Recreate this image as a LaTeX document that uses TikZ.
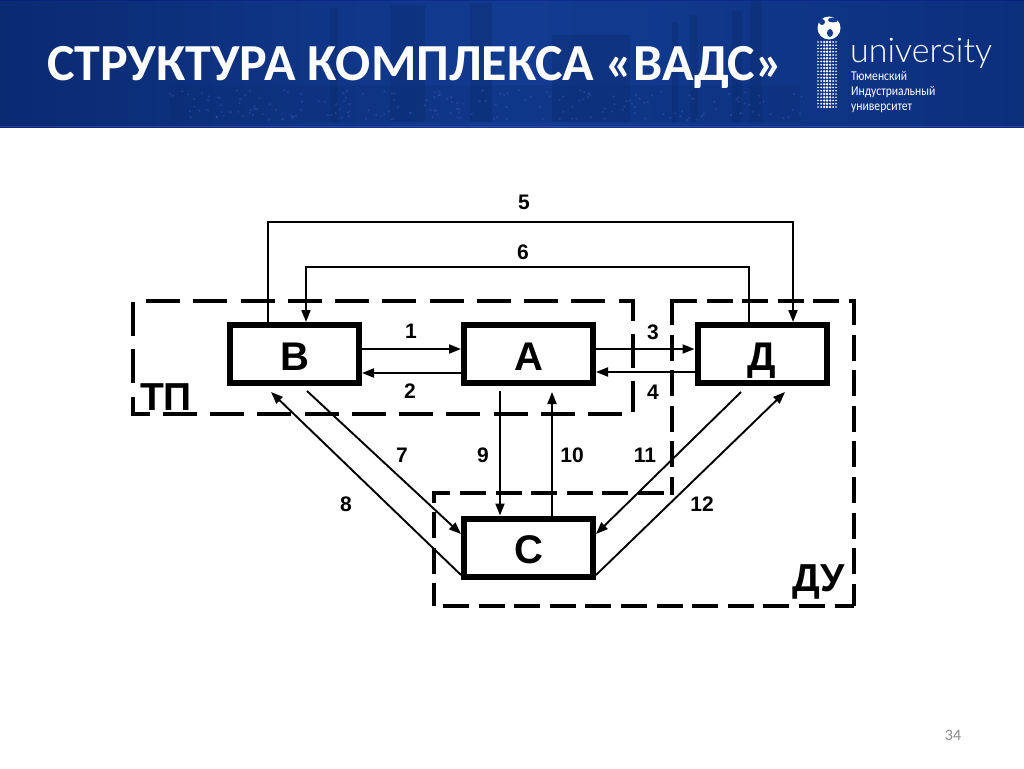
\documentclass[tikz,border=0pt]{standalone}
\usepackage{fontspec}
\setmainfont{Liberation Sans}
\newfontfamily\titlefont{Carlito}
\newfontfamily\logofont{Lato Light}
\usetikzlibrary{arrows.meta,shapes.geometric}
\definecolor{navy}{HTML}{0A2A72}
\definecolor{bluemid}{HTML}{123C92}
\definecolor{bluedark}{HTML}{0C2F7C}
\definecolor{towerblue}{HTML}{0A2A6C}
\definecolor{pagegray}{HTML}{8C8C8C}
\tikzset{
  blockbox/.style={draw=black,line width=6pt,fill=white,minimum width=129pt,minimum height=58pt,inner sep=0pt,text height=28pt,text depth=0pt,font=\bfseries\fontsize{40}{40}\selectfont},
  conn/.style={draw=black,line width=1.9pt,-{Triangle[length=12pt,width=9pt]}},
  numlabel/.style={inner sep=0pt,font=\bfseries\fontsize{21}{21}\selectfont},
  zonelabel/.style={inner sep=0pt,font=\bfseries\fontsize{39}{39}\selectfont},
  zoneA/.style={draw=black,line width=4.5pt,dash pattern=on 34pt off 13.25pt},
  zoneB/.style={draw=black,line width=3.4pt,dash pattern=on 26pt off 9.6pt},
  skyline/.style={fill=towerblue,fill opacity=.38,draw=none},
  logoline/.style={anchor=base west,inner sep=0pt,text=white,xscale=.86,transform shape,font=\titlefont\fontsize{13.5}{13.5}\selectfont},
}
\begin{document}
\begin{tikzpicture}[x=1pt,y=-1pt]
\useasboundingbox (0,0) rectangle (1024,768);
\fill[white] (0,0) rectangle (1024,768);
% header band
\shade[left color=navy,right color=bluedark,middle color=bluemid] (0,0) rectangle (1024,127);
\fill[black!40!blue,opacity=.25] (0,0) rectangle (1024,1.5);
\fill[black!30!blue!70!white,opacity=.5] (0,125.5) rectangle (1024,127);
% faint skyline
\foreach \xa/\ya/\xb in {330/8/338,390/5/425,470/3/492,552/35/630,672/22/678,690/15/698,732/11/742,750/0/762}
  \fill[skyline] (\xa,\ya) rectangle (\xb,122);
\fill[skyline,fill opacity=.2] (170,85) rectangle (800,122);
\pgfmathsetseed{7}
\foreach \i in {1,...,200}{
  \pgfmathsetmacro{\dx}{170+rnd*640}
  \pgfmathsetmacro{\dy}{90+rnd*30}
  \fill[blue!45!white,opacity=.16] (\dx,\dy) circle (1.3pt);
}
% title
\node[anchor=base west,inner sep=0pt,text=white,font=\titlefont\bfseries\fontsize{52}{52}\selectfont] (title) at (47,81) {СТРУКТУРА КОМПЛЕКСА «ВАДС»};
% logo
\fill[white] (829,28) circle (11.5pt);
\fill[bluemid] (822,22) circle (3pt) (833,20) ellipse (5pt and 2.5pt) (830,33) ellipse (3pt and 4pt);
\foreach \c/\r in {0/.8,1/1,2/1.25,3/1.4,4/1.25,5/1,6/.8}
  \foreach \k in {0,...,20}
    \fill[white] (818+\c*3,42+\k*3.25) circle (\r pt);
\node[anchor=base west,inner sep=0pt,text=white,font=\logofont\fontsize{34}{34}\selectfont] (logoname) at (850,63) {university};
\node[logoline] (logo1) at (851,80) {Тюменский};
\node[logoline] (logo2) at (851,95.5) {Индустриальный};
\node[logoline] (logo3) at (851,110) {университет};
% dashed zones
\draw[zoneA] (133,302) -- (133,414) -- (635,414);
\draw[zoneA] (146,301) -- (633,301) -- (633,412);
\draw[zoneB] (671,301) -- (856,301);
\draw[zoneB] (854,299) -- (854,606);
\draw[zoneB] (672,299) -- (672,495);
\draw[zoneB] (664,493) -- (434,493) -- (434,606);
\draw[zoneB] (443,606) -- (854,606);
% blocks
\node[blockbox] (V) at (294.5,354) {\raisebox{-2pt}{В}};
\node[blockbox] (A) at (528.5,354) {\raisebox{-2pt}{А}};
\node[blockbox] (D) at (762,354) {\raisebox{-2pt}{Д}};
\node[blockbox] (S) at (528.5,547.5) {\raisebox{-2pt}{С}};
% connectors
\draw[conn] ([xshift=-26.5pt]V.north) -- ++(0,-100) -| ([xshift=31pt]D.north);
\draw[conn] ([xshift=-13pt]D.north) -- ++(0,-55) -| ([xshift=11.5pt]V.north);
\draw[conn] ([yshift=5pt]V.east) -- ([yshift=5pt]A.west);
\draw[conn] ([yshift=-19pt]A.west) -- ([yshift=-19pt]V.east);
\draw[conn] ([yshift=5pt]A.east) -- ([yshift=5pt]D.west);
\draw[conn] ([yshift=-18pt]D.west) -- ([yshift=-18pt]A.east);
\draw[conn] ([xshift=12.5pt,yshift=-5pt]V.south) -- ([yshift=13.5pt]S.west);
\draw[conn] ([yshift=-27.5pt]S.west) -- ([xshift=-23.5pt,yshift=-6pt]V.south);
\draw[conn] ([xshift=-28.5pt,yshift=-5pt]A.south) -- ([xshift=-28.5pt]S.north);
\draw[conn] ([xshift=23.5pt]S.north) -- ([xshift=23.5pt,yshift=-6pt]A.south);
\draw[conn] ([xshift=-21pt,yshift=-6pt]D.south) -- ([yshift=13.5pt]S.east);
\draw[conn] ([yshift=-27.5pt]S.east) -- ([xshift=23pt,yshift=-6pt]D.south);
% labels
\node[numlabel] (n1) at (411,331) {1};
\node[numlabel] (n2) at (410,391) {2};
\node[numlabel] (n3) at (653,332) {3};
\node[numlabel] (n4) at (653,392) {4};
\node[numlabel] (n5) at (524,202) {5};
\node[numlabel] (n6) at (523,252) {6};
\node[numlabel] (n7) at (402,455) {7};
\node[numlabel] (n8) at (346,504) {8};
\node[numlabel] (n9) at (483,455) {9};
\node[numlabel] (n10) at (572,455) {10};
\node[numlabel] (n11) at (645,455) {11};
\node[numlabel] (n12) at (702,504) {12};
\node[zonelabel] (tp) at (166,397) {ТП};
\node[zonelabel] (du) at (819,582) {ДУ};
\node[inner sep=0pt,text=pagegray,font=\titlefont\fontsize{16}{16}\selectfont] (page) at (953,735) {34};
\end{tikzpicture}
\end{document}
